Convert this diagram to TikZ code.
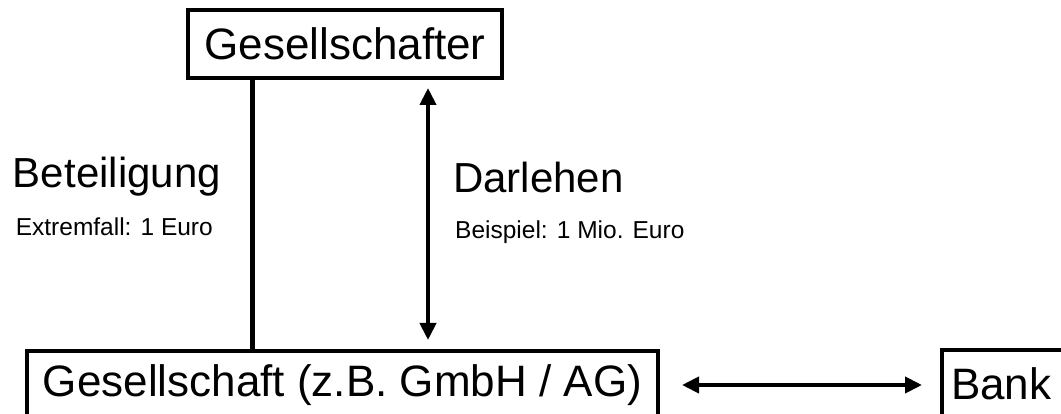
\documentclass[tikz,border=0pt]{standalone}
\usepackage{fontspec}
\setmainfont{Liberation Sans}
\usetikzlibrary{arrows.meta}

\begin{document}
\begin{tikzpicture}[x=1pt,y=-1pt,
  kasten/.style={draw=black,line width=4pt,inner sep=0pt,outer sep=0pt,minimum height=68pt,font=\fontsize{44}{50}\selectfont},
  gross/.style={inner sep=0pt,font=\fontsize{42}{48}\selectfont},
  klein/.style={inner sep=0pt,font=\fontsize{24.5}{28}\selectfont},
  linie/.style={line width=5pt},
  pfeil/.style={line width=4pt,{Triangle[width=16pt,length=17pt]}-{Triangle[width=16pt,length=17pt]}}]
\useasboundingbox (0,0) rectangle (1061,414);
\clip (0,0) rectangle (1061,414);
% Kaesten
\node[kasten,minimum width=314pt] (gs) at (345,44) {Gesellschafter};
\node[kasten,minimum width=631pt] (ges) at (342.5,385) {Gesellschaft (z.B. GmbH / AG)};
\node[kasten,anchor=west,inner xsep=9pt,text width=150pt,align=left] (bank) at (942,384) {Bank};
% Verbindungen
\coordinate (bet) at ([xshift=64pt]gs.south west);
\coordinate (dar) at ([xshift=83pt]gs.south);
\draw[linie] (bet) -- (bet |- ges.north);
\draw[pfeil,shorten <=10pt,shorten >=11pt] (dar) -- (dar |- ges.north);
\draw[pfeil,shorten <=24pt,shorten >=20pt] (ges.east) -- (ges.east -| bank.west);
% Beschriftungen
\node[gross,anchor=base east] (beteiligung) at (221,188) {Beteiligung};
\node[klein,anchor=base east] (extrem) at (213,236) {Extremfall: 1 Euro};
\node[gross,anchor=base west] (darlehen) at (453,193) {Darlehen};
\node[klein,anchor=base west] (beispiel) at (455,239) {Beispiel: 1 Mio. Euro};
\end{tikzpicture}
\end{document}
